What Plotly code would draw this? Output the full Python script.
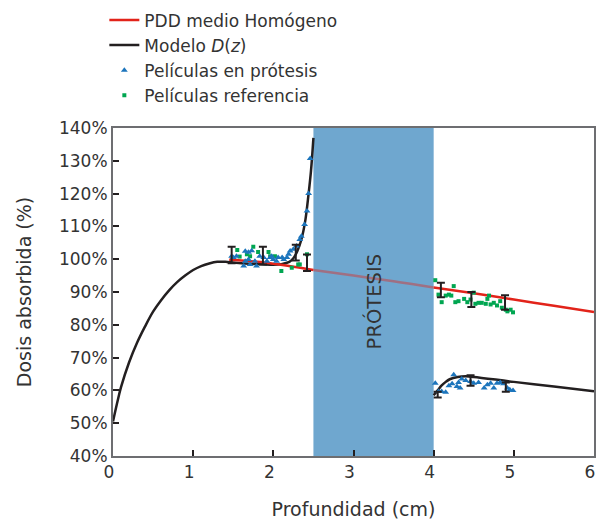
import plotly.graph_objects as go

# Homogeneous-phantom mean PDD (red)
pdd_z = [1.45, 1.6, 1.8, 2.0, 2.25, 2.5, 3.0, 3.5, 4.0, 4.5, 5.0, 5.5, 6.0]
pdd_d = [99.8, 99.6, 99.2, 98.6, 97.7, 96.7, 95.0, 93.3, 91.4, 89.6, 87.7, 85.8, 83.9]

# Model D(z), before the prosthesis
mod1_z = [0, 0.05, 0.1, 0.2, 0.3, 0.4, 0.5, 0.6, 0.7, 0.8, 0.9, 1.0, 1.1, 1.2, 1.3, 1.4,
          1.5, 1.6, 1.8, 2.0, 2.1, 2.2, 2.25, 2.3, 2.35, 2.4, 2.44, 2.47, 2.5]
mod1_d = [50.5, 56, 61, 68.5, 74.5, 79.5, 84, 87.5, 90.5, 93, 95, 96.7, 97.9, 98.7, 99.2, 99.2,
          99.0, 98.8, 98.5, 98.3, 98.5, 99.2, 100.3, 102.5, 106, 112, 120, 127, 137]
# Model D(z), after the prosthesis
mod2_z = [4.0, 4.05, 4.1, 4.15, 4.2, 4.3, 4.4, 4.5, 5.0, 5.5, 6.0]
mod2_d = [58.5, 60.0, 61.5, 62.6, 63.4, 64.1, 64.3, 64.1, 62.6, 61.2, 59.7]

# Films placed in the prosthesis phantom
pro_z = [1.48, 1.50, 1.54, 1.63, 1.65, 1.65, 1.69, 1.69, 1.71, 1.73, 1.77, 1.79, 1.83, 1.88,
         1.92, 1.96, 1.98, 2.00, 2.04, 2.06, 2.11, 2.13, 2.17, 2.19, 2.21, 2.25, 2.29, 2.33,
         2.35, 2.39, 2.42, 2.44, 2.46,
         4.02, 4.06, 4.10, 4.15, 4.19, 4.23, 4.25, 4.29, 4.31, 4.33, 4.35, 4.40, 4.46, 4.50,
         4.56, 4.63, 4.67, 4.71, 4.75, 4.79, 4.83, 4.87, 4.92, 4.95, 4.99]
pro_d = [100.9, 100.5, 100.9, 97.9, 99.4, 102.4, 99.9, 102.1, 98.4, 102.6, 99.4, 97.9, 100.9, 100.5,
         99.4, 100.5, 100.9, 99.9, 99.4, 100.5, 100.5, 99.9, 100.5, 101.5, 102.5, 103.0, 104.0, 106.0,
         107.0, 110.6, 114.7, 120.0, 130.7,
         62.2, 59.7, 59.7, 59.4, 61.4, 62.0, 64.8, 61.2, 62.4, 60.7, 63.5, 63.0, 62.7, 62.2,
         62.4, 60.7, 61.7, 62.2, 60.7, 62.2, 62.4, 62.0, 60.7, 60.2, 60.0]

# Reference films
ref_z = [1.55, 1.58, 1.67, 1.71, 1.75, 1.81, 1.94, 1.96, 2.02, 2.10, 2.23, 2.31, 2.33, 2.42,
         4.02, 4.06, 4.10, 4.15, 4.19, 4.22, 4.25, 4.27, 4.31, 4.38, 4.42, 4.46, 4.50, 4.52,
         4.56, 4.60, 4.65, 4.67, 4.69, 4.71, 4.75, 4.79, 4.83, 4.85, 4.90, 4.92, 4.96, 4.99]
ref_d = [102.8, 100.8, 101.5, 100.9, 103.8, 102.2, 102.2, 100.9, 100.9, 96.4, 97.4, 98.4, 98.4, 101.5,
         93.6, 89.2, 86.9, 88.9, 89.2, 88.9, 91.8, 86.9, 87.2, 87.9, 86.9, 87.7, 89.8, 86.4,
         86.7, 86.7, 86.4, 87.9, 88.9, 86.2, 86.7, 85.9, 87.2, 85.2, 84.6, 84.1, 84.6, 83.8]

# Uncertainty bars (centre and half-width)
err_z = [1.48, 1.87, 2.28, 2.42, 4.09, 4.47, 4.89, 4.05, 4.46, 4.90]
err_c = [101.3, 101.1, 102.0, 98.9, 90.6, 87.7, 86.8, 58.7, 63.0, 61.0]
err_h = [2.5, 2.7, 2.4, 2.5, 2.2, 2.3, 2.2, 0.9, 1.6, 1.4]

# Prosthesis extent (cm)
prot_z0, prot_z1 = 2.5, 4.0

x_ticks = [0, 1, 2, 3, 4, 5, 6]
y_ticks = list(range(40, 141, 10))
y_ticktext = [f"{v}%" for v in y_ticks]

FONT = "DejaVu Sans"
TXT = "#333333"
RED = "#e2231a"
BLACK = "#231f20"

# PDD split: full red outside the prosthesis, muted where it crosses it
pdd_out = [d if (z <= prot_z0 or z >= prot_z1) else None for z, d in zip(pdd_z, pdd_d)]
pdd_in_z = [z for z in pdd_z if prot_z0 <= z <= prot_z1]
pdd_in_d = [d for z, d in zip(pdd_z, pdd_d) if prot_z0 <= z <= prot_z1]

fig = go.Figure()
fig.add_trace(go.Scatter(x=mod1_z, y=mod1_d, mode="lines", name="Modelo <i>D</i>(<i>z</i>)",
                         line=dict(color=BLACK, width=2.5, shape="spline"), legendrank=2))
fig.add_trace(go.Scatter(x=mod2_z, y=mod2_d, mode="lines", showlegend=False,
                         line=dict(color=BLACK, width=2.5, shape="spline")))
fig.add_trace(go.Scatter(x=pdd_z, y=pdd_out, mode="lines", name="PDD medio Homógeno",
                         line=dict(color=RED, width=2.5, shape="spline"), legendrank=1,
                         connectgaps=False))
fig.add_trace(go.Scatter(x=pdd_in_z, y=pdd_in_d, mode="lines", showlegend=False,
                         line=dict(color="rgba(226,35,26,0.42)", width=2.5, shape="spline")))
fig.add_trace(go.Scatter(x=ref_z, y=ref_d, mode="markers", name="Películas referencia",
                         marker=dict(symbol="square", size=4, color="#00a651"), legendrank=4))
fig.add_trace(go.Scatter(x=pro_z, y=pro_d, mode="markers", name="Películas en prótesis",
                         marker=dict(symbol="triangle-up", size=6, color="#1c75bc"), legendrank=3))
fig.add_trace(go.Scatter(x=err_z, y=err_c, mode="markers", showlegend=False,
                         marker=dict(size=1, color="rgba(0,0,0,0)"),
                         error_y=dict(type="data", array=err_h, visible=True,
                                      color=BLACK, thickness=2, width=4)))

fig.add_shape(type="rect", xref="x", yref="paper", x0=prot_z0, x1=prot_z1, y0=0, y1=1,
              fillcolor="rgb(111,167,207)", line=dict(width=0), layer="below")
fig.add_annotation(x=(prot_z0 + prot_z1) / 2, y=87, text="PRÓTESIS", textangle=-90,
                   showarrow=False, font=dict(family=FONT, size=19.5, color=TXT))

fig.update_layout(
    width=597, height=520,
    margin=dict(l=113, r=3, t=128, b=64),
    paper_bgcolor="white", plot_bgcolor="white",
    font=dict(family=FONT, size=17, color=TXT),
    showlegend=True,
    legend=dict(x=-0.018, y=1.383, xanchor="left", yanchor="top", bgcolor="rgba(0,0,0,0)",
                font=dict(family=FONT, size=17, color=TXT), tracegroupgap=0),
)
fig.update_xaxes(range=[0, 6], tickvals=x_ticks, ticks="inside", ticklen=6,
                 tickwidth=2, tickcolor=BLACK, showgrid=False, zeroline=False,
                 showline=True, linecolor="#6d6e71", linewidth=2, mirror=True,
                 automargin=False, ticklabeloverflow="allow", ticklabelshift=-4,
                 title=dict(text="Profundidad (cm)", font=dict(size=19), standoff=22),
                 tickfont=dict(size=17))
fig.update_yaxes(range=[40, 140], tickvals=y_ticks, ticktext=y_ticktext,
                 ticks="inside", ticklen=6, tickwidth=2, tickcolor=BLACK,
                 showgrid=False, zeroline=False,
                 showline=True, linecolor="#6d6e71", linewidth=2, mirror=True,
                 automargin=False,
                 title=dict(text="Dosis absorbida (%)", font=dict(size=19), standoff=22),
                 tickfont=dict(size=17))

fig.write_html("out.html")
